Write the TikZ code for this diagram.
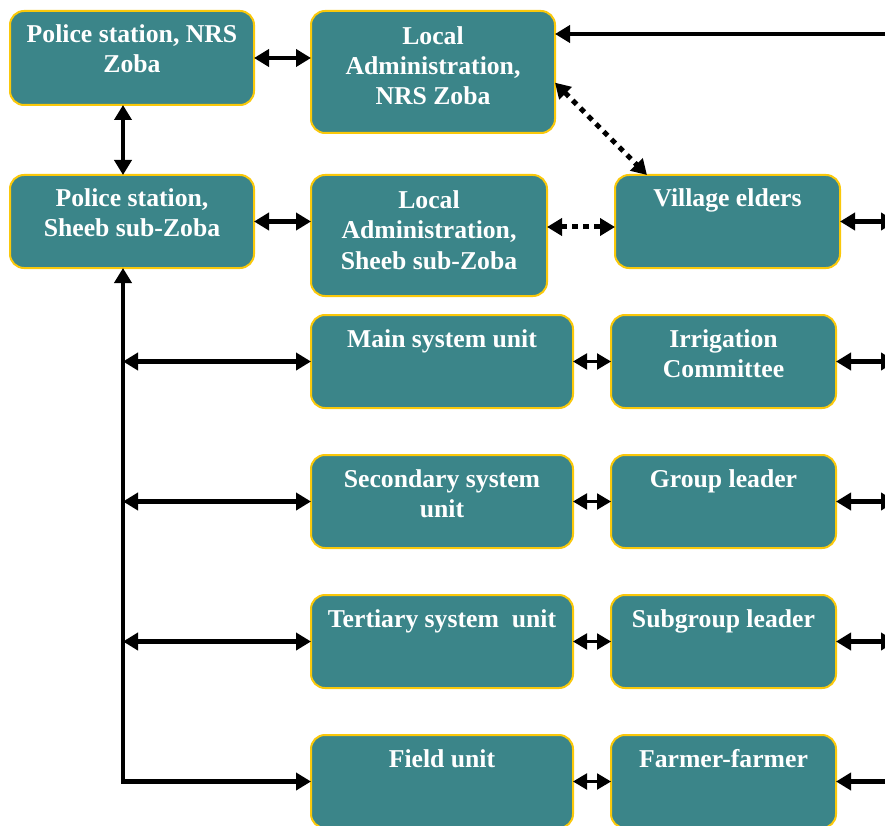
\documentclass[tikz,border=0pt]{standalone}
\usepackage{fontspec}
\setmainfont{Liberation Serif}
\usetikzlibrary{arrows.meta}
\definecolor{boxfill}{RGB}{59,133,137}
\definecolor{boxline}{RGB}{250,200,10}
\newcommand\boxtext[4][32]{\parbox[c][#3pt][t]{#2pt}{\centering\rule{0pt}{#1pt}#4\par}}
\begin{document}
\begin{tikzpicture}[x=1pt,y=-1pt,
  box/.style={draw=boxline, line width=2pt, fill=boxfill, rounded corners=14pt,
    inner sep=0pt, outer sep=0pt, text=white,
    font=\bfseries\fontsize{25.7}{30}\selectfont, anchor=north west},
  dbl/.style={line width=4.6pt, line join=miter,
    {Triangle[length=15pt,width=17pt]}-{Triangle[length=15pt,width=17pt]}},
  sgl/.style={line width=4.6pt, -{Triangle[length=15pt,width=17pt]}},
  tarrow/.style={line width=2.2pt,
    {Triangle[length=14pt,width=16pt]}-{Triangle[length=14pt,width=16pt]}},
  dotarr/.style={line width=5pt, dash pattern=on 5.5pt off 5.5pt,
    {Triangle[length=15pt,width=17pt]}-{Triangle[length=15pt,width=17pt]}}
]
\clip (0,0) rectangle (885,826);
\fill[white] (0,0) rectangle (885,826);

% boxes
\node[box] (psn) at (10,11)  {\boxtext{244}{94}{Police station, NRS\\Zoba}};
\node[box] (lan) at (311,11) {\boxtext[34]{244}{122}{Local\\Administration,\\NRS Zoba}};
\node[box] (pss) at (10,175) {\boxtext{244}{93}{Police station,\\Sheeb sub-Zoba}};
\node[box] (las) at (311,175) {\boxtext[34]{236}{121}{Local\\Administration,\\Sheeb sub-Zoba}};
\node[box] (ve)  at (615,175) {\boxtext{225}{93}{Village elders}};
\node[box] (msu) at (311,315) {\boxtext{262}{93}{Main system unit}};
\node[box] (ic)  at (611,315) {\boxtext{225}{93}{Irrigation\\Committee}};
\node[box] (ssu) at (311,455) {\boxtext{262}{93}{Secondary system\\unit}};
\node[box] (gl)  at (611,455) {\boxtext{225}{93}{Group leader}};
\node[box] (tsu) at (311,595) {\boxtext{262}{93}{Tertiary system~~unit}};
\node[box] (sgl) at (611,595) {\boxtext{225}{93}{Subgroup leader}};
\node[box] (fu)  at (311,735) {\boxtext{262}{93}{Field unit}};
\node[box] (ff)  at (611,735) {\boxtext{225}{93}{Farmer-farmer}};

% helper coordinates
\coordinate (trunk) at (123,0);
\coordinate (bl) at (123,781.5);
\coordinate (dy) at (0,227);
\coordinate (rt) at (905,34);
\coordinate (rve) at (896,221.5);
\coordinate (ric) at (896,361.5);
\coordinate (rgl) at (896,501.5);
\coordinate (rsgl) at (896,641.5);
\coordinate (rff) at (905,781.5);

% top-left connectors
\draw[dbl] (psn.east) -- (psn.east -| lan.west);
\draw[dbl] (psn.south -| trunk) -- (pss.north -| trunk);
\draw[dbl] (pss.east) -- (pss.east -| las.west);
\draw[sgl] (rt) -- (rt -| lan.east);
\draw[dotarr] (lan.-5) -- (ve.150);
\draw[dotarr] (las.east |- dy) -- (ve.west |- dy);
\draw[dbl] (ve.east) -- (rve);

% trunk
\draw[dbl] (pss.south -| trunk) -- (bl) -- (bl -| fu.west);
\draw[dbl] (trunk |- msu.west) -- (msu.west);
\draw[dbl] (trunk |- ssu.west) -- (ssu.west);
\draw[dbl] (trunk |- tsu.west) -- (tsu.west);

% middle to right column
\draw[tarrow] (msu.east) -- (ic.west);
\draw[tarrow] (ssu.east) -- (gl.west);
\draw[tarrow] (tsu.east) -- (sgl.west);
\draw[tarrow] (fu.east) -- (ff.west);

% right edge
\draw[dbl] (ic.east) -- (ric);
\draw[dbl] (gl.east) -- (rgl);
\draw[dbl] (sgl.east) -- (rsgl);
\draw[sgl] (rff) -- (ff.east);
\end{tikzpicture}
\end{document}
